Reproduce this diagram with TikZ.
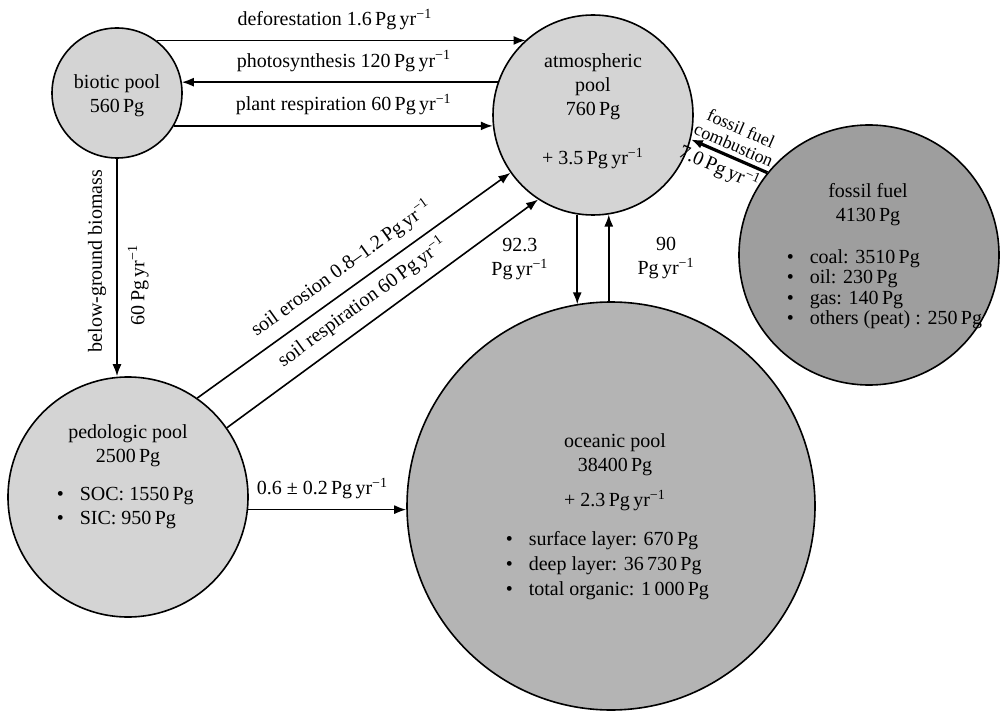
\documentclass[tikz,border=0pt]{standalone}
\usepackage{fontspec}
\setmainfont{Liberation Serif}
\usetikzlibrary{arrows.meta,positioning}
\definecolor{poolgray}{RGB}{212,212,212}
\definecolor{oceangray}{RGB}{180,180,180}
\definecolor{fossilgray}{RGB}{158,158,158}
\newcommand{\pgyr}{Pg\,yr\textsuperscript{−1}}

\begin{document}
\begin{tikzpicture}[x=0.5pt,y=-0.5pt,>={Latex[length=6pt,width=4.5pt]},line width=0.8pt,
    pool/.style={circle,draw,inner sep=0pt},
    pooltext/.style={align=center,inner sep=0pt},
    bullets/.style={align=left,anchor=west,inner sep=0pt},
    flow/.style={->},
    lbl/.style={inner sep=5pt}]

    \useasboundingbox (0,0) rectangle (1006,711);

    \node[pool, fill=poolgray, minimum size=65pt] (bio) at (117,93) {};
    \node[pool, fill=poolgray, minimum size=100pt] (atm) [right of=bio, node distance=238pt, yshift=-11pt] {};
    \node[pool, fill=fossilgray, minimum size=130pt] (fossil) [right of=atm, node distance=138pt, yshift=-70pt] {};
    \node[pool, fill=poolgray, minimum size=120pt] (ped) [below of=bio, node distance=202pt, xshift=5.5pt] {};
    \node[pool, fill=oceangray, minimum size=204pt] (ocean) [right of=ped, node distance=241.5pt, yshift=-4.5pt] {};

    \node[pooltext] (biotext) at ([shift={(0,2.5)}]bio.center) {biotic pool\\560\,Pg};
    \node[pooltext] (atmtext) at ([shift={(0,-4)}]atm.center) {atmospheric\\pool\\760\,Pg\\[12.5pt]+ 3.5\,\pgyr};
    \node[pooltext] (fossiltext) at ([shift={(-1,-50.5)}]fossil.center) {fossil fuel\\4130\,Pg};
    \node[bullets] (fossillist) at ([shift={(-83,34)}]fossil.center) {\textbullet\hspace{8pt}coal: 3510\,Pg\\[-1.75pt]\textbullet\hspace{8pt}oil: 230\,Pg\\[-1.75pt]\textbullet\hspace{8pt}gas: 140\,Pg\\[-1.75pt]\textbullet\hspace{8pt}others (peat) : 250\,Pg};
    \node[pooltext] (pedtext) at ([shift={(0,-51)}]ped.center) {pedologic pool\\2500\,Pg};
    \node[bullets] (pedlist) at ([shift={(-72,11.5)}]ped.center) {\textbullet\hspace{8pt}SOC: 1550\,Pg\\\textbullet\hspace{8pt}SIC: 950\,Pg};
    \node[pooltext] (oceantext) at ([shift={(4,-33.5)}]ocean.center) {oceanic pool\\38400\,Pg\\[5.5pt]+ 2.3\,\pgyr};
    \node[bullets] (oceanlist) at ([shift={(-106,60)}]ocean.center) {\textbullet\hspace{8pt}surface layer: 670\,Pg\\[0.5pt]\textbullet\hspace{8pt}deep layer: 36\,730\,Pg\\[0.5pt]\textbullet\hspace{8pt}total organic: 1\,000\,Pg};

    \draw[flow] (bio.53) -- node[lbl, anchor=south west, pos=.19] (deflbl) {deforestation 1.6\,\pgyr} (atm.132 |- bio.53);
    \draw[flow] (atm.161) -- node[lbl, anchor=south west, pos=.86] (photlbl) {photosynthesis 120\,\pgyr} (bio.10 |- atm.161);
    \draw[flow] (bio.-30) -- node[lbl, anchor=south west, pos=.16] (resplbl) {plant respiration 60\,\pgyr} (atm.186 |- bio.-30);
    \draw[flow] (bio.south) -- node[lbl, rotate=90, anchor=south, pos=.47] (bgblbl) {below-ground biomass}
        node[lbl, rotate=90, anchor=north, pos=.58] (bgbval) {60\,\pgyr} (bio.south |- ped.north);
    \draw[flow] (ped.55) -- node[lbl, sloped, above, pos=.5] (erolbl) {soil erosion 0.8--1.2\,\pgyr} (atm.215);
    \draw[flow] (ped.35) -- node[lbl, sloped, above, pos=.475] (srlbl) {soil respiration 60\,\pgyr} (atm.237);
    \draw[flow] (atm.261) -- node[lbl, left=9pt, align=center] (downlbl) {92.3\\\pgyr} (atm.261 |- ocean.100);
    \draw[flow] (atm.279 |- ocean.north) -- node[lbl, right=9pt, align=center] (uplbl) {90\\\pgyr} (atm.279);
    \draw[flow, line width=1.6pt] (fossil.141) -- node[sloped, above, inner sep=2pt, align=center, font=\small] (fflbl) {fossil fuel\\[-2pt]combustion}
        node[sloped, below, inner sep=1.5pt, pos=.55] (ffval) {7.0\,\pgyr} (atm.-14);
    \draw[flow] (ped.-6) -- node[lbl, above, pos=.47] (sedlbl) {0.6 ± 0.2\,\pgyr} (ocean.181 |- ped.-6);
\end{tikzpicture}
\end{document}
